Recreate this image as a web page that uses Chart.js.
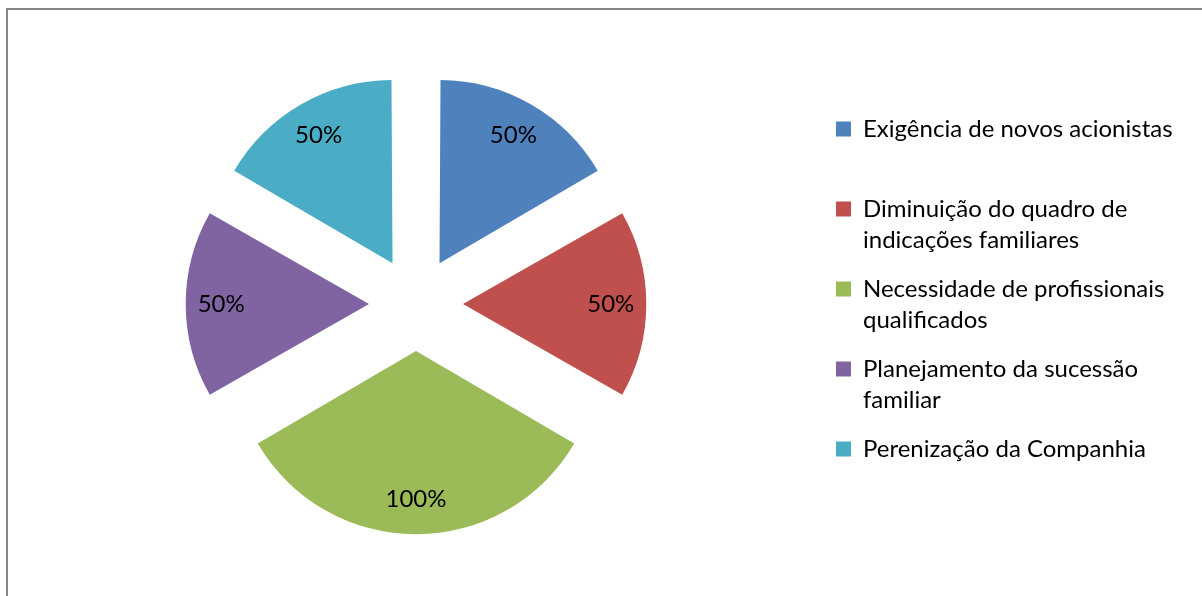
<!DOCTYPE html>
<html>
<head>
<meta charset="utf-8">
<script src="https://cdn.jsdelivr.net/npm/chart.js@4.4.0/dist/chart.umd.min.js"></script>
<style>
  html, body { margin: 0; padding: 0; background: #fff; }
  #frame {
    position: absolute; left: 6px; top: 8px; width: 1300px; height: 700px;
    border-left: 2px solid #878787; border-top: 2px solid #878787;
  }
  #pie { position: absolute; left: 0; top: 0; }
</style>
</head>
<body>
<div id="frame"></div>
<canvas id="pie" width="1202" height="596"></canvas>
<script>
const categories = [
  ['Exigência de novos acionistas'],
  ['Diminuição do quadro de', 'indicações familiares'],
  ['Necessidade de profissionais', 'qualificados'],
  ['Planejamento da sucessão', 'familiar'],
  ['Perenização da Companhia']
];
const values = [50, 50, 100, 50, 50];
const sliceColors = ['#4F81BD', '#C0504D', '#9BBB59', '#8064A2', '#4BACC6'];

const FONT = 'Lato, "Open Sans", sans-serif';
const FONT_SIZE = 24;
Chart.defaults.font.family = FONT;
Chart.defaults.color = '#000';

// every legend entry takes a two-line slot so the rows stay evenly spaced
const legendText = categories.map(lines => lines.length < 2 ? lines.concat(['']) : lines);

// "50%" style labels inside each exploded slice
const sliceLabels = {
  id: 'sliceLabels',
  afterDatasetsDraw(chart) {
    const ctx = chart.ctx;
    const meta = chart.getDatasetMeta(0);
    ctx.save();
    ctx.font = FONT_SIZE + 'px ' + FONT;
    ctx.fillStyle = '#000';
    ctx.textAlign = 'center';
    ctx.textBaseline = 'middle';
    meta.data.forEach((arc, i) => {
      const mid = (arc.startAngle + arc.endAngle) / 2;
      const dist = arc.options.offset / 4 + 0.835 * arc.outerRadius;
      ctx.fillText(values[i] + '%', arc.x + Math.cos(mid) * dist, arc.y + Math.sin(mid) * dist);
    });
    ctx.restore();
  }
};

// push the legend column down a little
const legendNudge = {
  id: 'legendNudge',
  afterLayout(chart) {
    chart.legend.top += 4;
    chart.legend.bottom += 4;
  }
};

new Chart(document.getElementById('pie'), {
  type: 'pie',
  data: {
    labels: legendText,
    datasets: [{
      data: values,
      backgroundColor: sliceColors,
      borderWidth: 0,
      offset: 188,
      hoverOffset: 0
    }]
  },
  options: {
    responsive: false,
    animation: false,
    events: [],
    layout: { padding: { left: 14, right: 24, top: 33, bottom: 21 } },
    plugins: {
      tooltip: { enabled: false },
      legend: {
        position: 'right',
        align: 'center',
        maxWidth: 360,
        labels: {
          boxWidth: 15,
          boxHeight: 15,
          padding: 18,
          color: '#000',
          font: { size: FONT_SIZE, lineHeight: 1.2917 }
        }
      }
    }
  },
  plugins: [sliceLabels, legendNudge]
});
</script>
</body>
</html>
